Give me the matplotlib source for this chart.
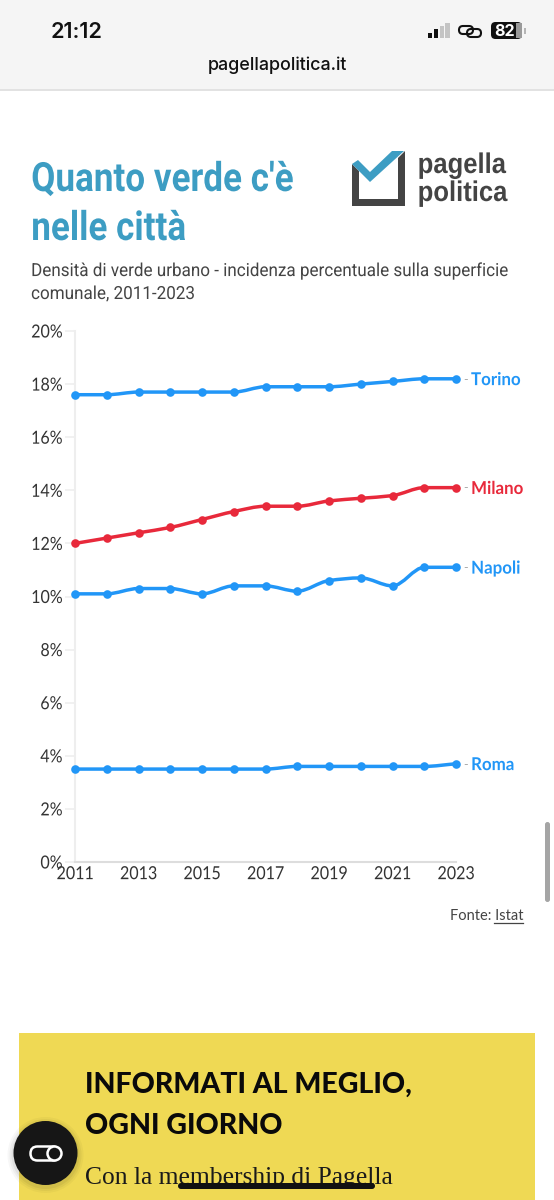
import matplotlib
matplotlib.use("Agg")
import matplotlib.pyplot as plt
import matplotlib.patheffects as pe
from matplotlib.patches import Rectangle, Polygon, Circle, FancyBboxPatch, PathPatch
from matplotlib.path import Path
from matplotlib.ticker import FuncFormatter
from matplotlib.transforms import Affine2D

years = list(range(2011, 2024))
torino = [17.6, 17.6, 17.7, 17.7, 17.7, 17.7, 17.9, 17.9, 17.9, 18.0, 18.1, 18.2, 18.2]
milano = [12.0, 12.2, 12.4, 12.6, 12.9, 13.2, 13.4, 13.4, 13.6, 13.7, 13.8, 14.1, 14.1]
napoli = [10.1, 10.1, 10.3, 10.3, 10.1, 10.4, 10.4, 10.2, 10.6, 10.7, 10.4, 11.1, 11.1]
roma = [3.5, 3.5, 3.5, 3.5, 3.5, 3.5, 3.5, 3.6, 3.6, 3.6, 3.6, 3.6, 3.7]
y_ticks = [0, 2, 4, 6, 8, 10, 12, 14, 16, 18, 20]
x_ticks = [2011, 2013, 2015, 2017, 2019, 2021, 2023]

BLUE = "#2196f7"
RED = "#e8293b"
TEAL = "#3d9dc3"
DARK = "#444444"
W, H = 554, 1200


class Condensed(pe.AbstractPathEffect):
    """Narrow a text run horizontally, keeping one side or its centre in place."""

    def __init__(self, factor, anchor="left"):
        super().__init__()
        self.factor = factor
        self.anchor = anchor

    def draw_path(self, renderer, gc, tpath, affine, rgbFace=None):
        box = tpath.get_extents(affine)
        x0 = {"left": box.x0, "center": (box.x0 + box.x1) / 2, "right": box.x1}[self.anchor]
        squeeze = Affine2D().translate(-x0, 0).scale(self.factor, 1).translate(x0, 0)
        renderer.draw_path(gc, tpath, affine + squeeze, rgbFace)


fig = plt.figure(figsize=(W / 100, H / 100), dpi=100, facecolor="white")

# page furniture, laid out in screen pixels
bg = fig.add_axes([0, 0, 1, 1], zorder=0)
bg.set_xlim(0, W)
bg.set_ylim(H, 0)
bg.axis("off")

# browser bar
bg.add_patch(Rectangle((0, 0), W, 89, fc="#f5f5f5", ec="none"))
bg.add_patch(Rectangle((0, 89), W, 1.5, fc="#e2e2e2", ec="none"))
bg.text(76.5, 31.5, "21:12", ha="center", va="center", fontsize=15.5, family="Inter", weight="semibold", color="#111111")
bg.text(277, 65, "pagellapolitica.it", ha="center", va="center", fontsize=12.9, family="Inter", weight="medium", color="#111111")
for x0, h, c in [(427.5, 5, "#111111"), (433.5, 9, "#111111"), (439.5, 12, "#c4c4c4"), (445, 15, "#c4c4c4")]:
    bg.add_patch(Rectangle((x0, 38 - h), 4.5, h, fc=c, ec="none"))
bg.add_patch(FancyBboxPatch((459, 26), 14, 8, boxstyle="round,pad=0,rounding_size=4", fc="none", ec="#111111", lw=1.5))
bg.add_patch(FancyBboxPatch((467, 29), 14, 8, boxstyle="round,pad=0,rounding_size=4", fc="none", ec="#111111", lw=1.5))
bg.add_patch(FancyBboxPatch((491, 22), 31, 17, boxstyle="round,pad=0,rounding_size=4.5", fc="#111111", ec="none"))
bg.add_patch(Rectangle((516, 23), 6, 15, fc="#9a9a9a", ec="none"))
bg.add_patch(Rectangle((524, 27.5), 1.5, 6, fc="#b5b5b5", ec="none"))
bg.text(505, 31, "82", ha="center", va="center", fontsize=11.5, family="Inter", weight="bold", color="white")

# headline block, in a condensed cut of Roboto
title_fx = [Condensed(0.87)]
sub_fx = [Condensed(0.945)]
bg.text(31, 180, "Quanto verde c'è", ha="left", va="center", fontsize=29, family="Roboto", weight="bold", color=TEAL, path_effects=title_fx)
bg.text(31, 229, "nelle città", ha="left", va="center", fontsize=29, family="Roboto", weight="bold", color=TEAL, path_effects=title_fx)
bg.text(31, 271, "Densità di verde urbano - incidenza percentuale sulla superficie", ha="left", va="center", fontsize=13, family="Roboto", color=DARK, path_effects=sub_fx)
bg.text(31, 294, "comunale, 2011-2023", ha="left", va="center", fontsize=13, family="Roboto", color=DARK, path_effects=sub_fx)

# publisher mark
bg.add_patch(Polygon([(352, 164), (359, 171), (359, 199), (398, 199), (398, 158), (405, 151), (405, 206), (352, 206)], fc=DARK, ec="none"))
bg.add_patch(Polygon([(352, 164), (358, 160), (370, 172), (392, 151), (404, 151), (370, 182)], fc=TEAL, ec="none"))
logo_fx = [Condensed(0.9)]
bg.text(417.5, 173, "pagella", ha="left", va="baseline", fontsize=20.5, family="Liberation Sans", weight="bold", color=DARK, path_effects=logo_fx)
bg.text(417.5, 201, "politica", ha="left", va="baseline", fontsize=20.5, family="Liberation Sans", weight="bold", color=DARK, path_effects=logo_fx)

# source line
bg.text(523, 916, "Fonte: Istat", ha="right", va="center", fontsize=10.5, family="Lato", color=DARK)
bg.plot([494, 523], [923, 923], color=DARK, lw=0.9)

# scroll indicator and membership box
bg.add_patch(FancyBboxPatch((545, 822), 5, 80, boxstyle="round,pad=0,rounding_size=2.5", fc="#a5a5a5", ec="none"))
bg.add_patch(Rectangle((19, 1033), 516, 167, fc="#efd954", ec="none"))
bg.text(85, 1084.5, "INFORMATI AL MEGLIO,", ha="left", va="center", fontsize=20.5, family="Lato", weight="black", color="#0a0a0a")
bg.text(85, 1125.5, "OGNI GIORNO", ha="left", va="center", fontsize=20.5, family="Lato", weight="black", color="#0a0a0a")
bg.text(85, 1178, "Con la membership di Pagella", ha="left", va="center", fontsize=18.4, family="Liberation Serif", color="#1a1a1a")
bg.add_patch(FancyBboxPatch((178, 1183), 197, 6, boxstyle="round,pad=0,rounding_size=3", fc="#111111", ec="none", zorder=4))
for radius, alpha in [(38, 0.03), (36, 0.04), (34, 0.05)]:
    bg.add_patch(Circle((45.5, 1155), radius, fc="black", ec="none", alpha=alpha, zorder=3))
bg.add_patch(Circle((45.5, 1153), 32, fc="#161616", ec="none", zorder=4))
bg.add_patch(FancyBboxPatch((30.5, 1146.5), 29, 14, boxstyle="round,pad=0,rounding_size=7", fc="none", ec="white", lw=1.8, zorder=5))
bg.add_patch(Circle((54.5, 1153.5), 7, fc="#161616", ec="white", lw=1.8, zorder=6))

# the chart itself
ax = fig.add_axes([75 / W, 1 - 862 / H, (456 - 75) / W, (862 - 331) / H], zorder=2)
ax.patch.set_alpha(0)
ax.set_xlim(2011, 2023)
ax.set_ylim(0, 20)
for side in ("top", "right"):
    ax.spines[side].set_visible(False)
ax.spines["left"].set_color("#eeeeee")
ax.spines["left"].set_linewidth(1.5)
ax.spines["bottom"].set_color("#dddddd")
ax.spines["bottom"].set_linewidth(1.5)
ax.set_yticks(y_ticks)
ax.set_xticks(x_ticks)
ax.yaxis.set_major_formatter(FuncFormatter(lambda v, _: f"{v:.0f}%"))
ax.tick_params(axis="y", length=7, width=1.1, color="#eeeeee", pad=2, labelsize=13, labelcolor="#333333")
ax.tick_params(axis="x", length=0, pad=3, labelsize=13, labelcolor="#333333")
for label in ax.get_yticklabels():
    label.set_family("Lato")
    label.set_path_effects([Condensed(0.89, "right")])
for label in ax.get_xticklabels():
    label.set_family("Lato")
    label.set_path_effects([Condensed(0.89, "center")])


def monotone_path(xs, ys):
    """Cubic path through the data with monotone tangents."""
    n = len(xs)
    slopes = [(ys[i + 1] - ys[i]) / (xs[i + 1] - xs[i]) for i in range(n - 1)]
    tang = [slopes[0]] + [0.0] * (n - 2) + [slopes[-1]]
    for i in range(1, n - 1):
        a, b = slopes[i - 1], slopes[i]
        tang[i] = 0.0 if a * b <= 0 else 2 * a * b / (a + b)
    verts, codes = [(xs[0], ys[0])], [Path.MOVETO]
    for i in range(n - 1):
        d = (xs[i + 1] - xs[i]) / 3
        verts += [(xs[i] + d, ys[i] + tang[i] * d), (xs[i + 1] - d, ys[i + 1] - tang[i + 1] * d), (xs[i + 1], ys[i + 1])]
        codes += [Path.CURVE4] * 3
    return Path(verts, codes)


series = [("Torino", torino, BLUE), ("Milano", milano, RED), ("Napoli", napoli, BLUE), ("Roma", roma, BLUE)]
for name, values, colour in series:
    ax.add_patch(PathPatch(monotone_path(years, values), fc="none", ec=colour, lw=2.5, clip_on=False, capstyle="round", zorder=3))
    ax.plot(years, values, ls="none", marker="o", ms=6.2, mfc=colour, mec="none", clip_on=False, zorder=4)
    # short leader between the last point and the city name
    ax.annotate("-", xy=(2023, values[-1]), xytext=(5.5, -0.6), textcoords="offset points", ha="left", va="center",
                fontsize=9, family="Lato", color="#aaaaaa", annotation_clip=False)
    ax.annotate(name, xy=(2023, values[-1]), xytext=(10.8, -0.6), textcoords="offset points", ha="left", va="center",
                fontsize=12.8, family="Lato", weight="bold", color=colour, annotation_clip=False,
                path_effects=[Condensed(0.95)])

fig.savefig("out.png", dpi=100, facecolor="white")
